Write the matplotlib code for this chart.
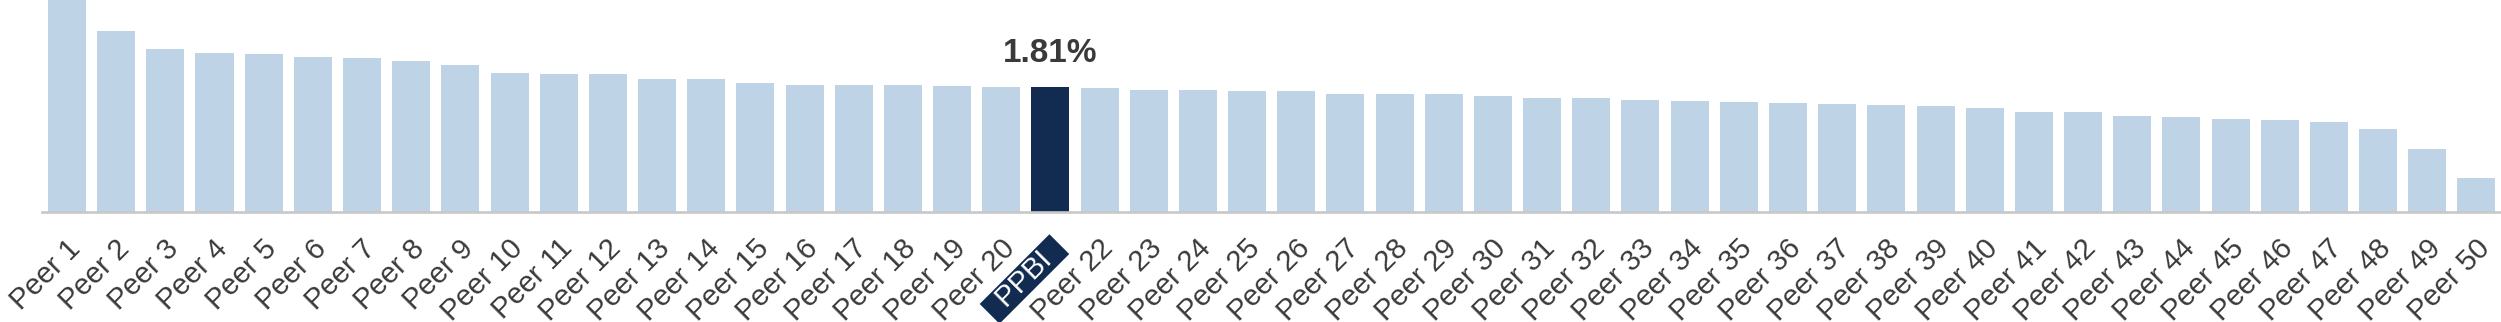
import matplotlib
matplotlib.use("Agg")
import matplotlib.pyplot as plt
import matplotlib.transforms as mtransforms

plt.rcParams['font.family'] = ['Liberation Sans', 'DejaVu Sans']

categories = [f"Peer {i}" for i in range(1, 21)] + ["PPBI"] + [f"Peer {i}" for i in range(22, 51)]
values = [3.10, 2.62, 2.36, 2.30, 2.29, 2.24, 2.23, 2.18, 2.12, 2.01,
          1.99, 1.99, 1.92, 1.92, 1.86, 1.83, 1.83, 1.83, 1.82, 1.81,
          1.81, 1.79, 1.77, 1.77, 1.75, 1.75, 1.71, 1.70, 1.70, 1.68,
          1.65, 1.65, 1.62, 1.60, 1.59, 1.58, 1.56, 1.54, 1.53, 1.50,
          1.44, 1.44, 1.39, 1.37, 1.34, 1.33, 1.30, 1.20, 0.91, 0.49]
highlight = "PPBI"
highlight_label = "1.81%"

light = "#bed4e6"
navy = "#122b50"
text_col = "#3a3a3a"

fig = plt.figure(figsize=(25.01, 3.22), dpi=100)
ax = fig.add_axes([42.4 / 2501, (322 - 212) / 322, 1 - 42.4 / 2501, 212 / 322])

x = list(range(len(categories)))
colors = [navy if c == highlight else light for c in categories]
ax.bar(x, values, width=0.773, color=colors, edgecolor='none', zorder=1)

ax.set_xlim(-0.5, len(categories) - 0.5)
ax.set_ylim(0, 3.064)

for s in ['top', 'right', 'left']:
    ax.spines[s].set_visible(False)
ax.spines['bottom'].set_color('#c8c8c8')
ax.spines['bottom'].set_linewidth(1.9)
ax.spines['bottom'].set_zorder(3)
ax.set_yticks([])

tick_text = [f"  {c}  " if c == highlight else c for c in categories]
ax.set_xticks(x)
ax.set_xticklabels(tick_text, rotation=45, ha='right', rotation_mode='anchor',
                   fontsize=21, color=text_col)
ax.tick_params(axis='x', length=0, pad=16)
offset = mtransforms.ScaledTranslation(-1 / 100, 0, fig.dpi_scale_trans)
for lbl in ax.get_xticklabels():
    lbl.set_transform(lbl.get_transform() + offset)
    if lbl.get_text().strip() == highlight:
        lbl.set_color('white')
        lbl.set_bbox(dict(boxstyle='square,pad=0.0', fc=navy, ec='none'))

hi = categories.index(highlight)
ax.annotate(highlight_label, xy=(hi, values[hi]), xytext=(0, 18), textcoords='offset points',
            ha='center', va='baseline', fontsize=24, fontweight='bold', color=text_col)

fig.savefig("out.png", dpi=100)
